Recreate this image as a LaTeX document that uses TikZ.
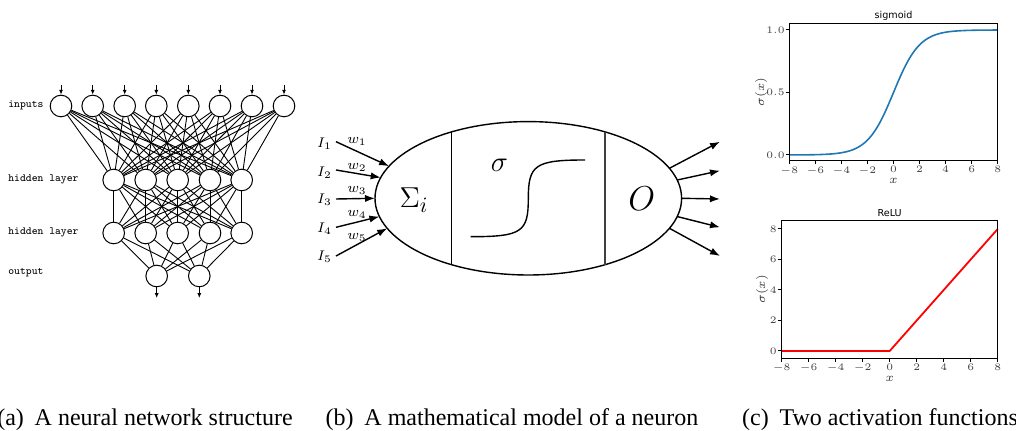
\documentclass[tikz,border=0pt]{standalone}
\usepackage{fontspec}
\newfontfamily\capfont{Liberation Serif}
\newfontfamily\titlefont{DejaVu Sans}
\usetikzlibrary{shapes.geometric,arrows.meta}
\definecolor{mplblue}{HTML}{1F77B4}
\begin{document}
\begin{tikzpicture}[x=0.5pt,y=-0.5pt,
  neuron/.style={circle,draw,line width=0.5pt,minimum size=10.8pt,inner sep=0pt},
  edge/.style={line width=0.45pt},
  smallarrow/.style={line width=0.5pt,-{Latex[length=2.4pt,width=2pt]}},
  lab/.style={font=\fontsize{5.5}{6}\selectfont\ttfamily,anchor=west,inner sep=0pt},
  bigarrow/.style={line width=0.7pt,-{Latex[length=5pt,width=3.6pt]}},
  mlab/.style={font=\fontsize{7.2}{8}\selectfont,inner sep=0pt},
  spine/.style={line width=0.5pt},
  tick/.style={font=\fontsize{4}{5}\selectfont,text=black!75,inner sep=0pt},
  axlab/.style={font=\fontsize{5.6}{6}\selectfont,text=black!80,inner sep=0pt},
  ptitle/.style={font=\fontsize{4.8}{5}\selectfont\titlefont,inner sep=0pt},
  caption/.style={font=\fontsize{12}{14}\selectfont\capfont,anchor=base,inner sep=0pt}]
\useasboundingbox (0,0) rectangle (1016,431);

% ---------------- (a) network ----------------
\foreach \x [count=\i] in {61,92.7,124.7,156.3,188.3,220,252,284} {
  \node[neuron] (in\i) at (\x,106) {};
  \coordinate (ia\i) at (\x,85);
  \draw[smallarrow] (ia\i) -- (in\i);
}
\foreach \x [count=\i] in {113.7,145.7,177.7,210,241.7} {
  \node[neuron] (ha\i) at (\x,180) {};
  \node[neuron] (hb\i) at (\x,233) {};
}
\foreach \x [count=\i] in {156.7,199.3} {
  \node[neuron] (out\i) at (\x,276) {};
  \coordinate (oa\i) at (\x,298);
  \draw[smallarrow] (out\i) -- (oa\i);
}
\foreach \i in {1,...,8} \foreach \j in {1,...,5} \draw[edge] (in\i) -- (ha\j);
\foreach \i in {1,...,5} \foreach \j in {1,...,5} \draw[edge] (ha\i) -- (hb\j);
\foreach \i in {1,...,5} \foreach \j in {1,2} \draw[edge] (hb\i) -- (out\j);
\node[lab] (linp) at (8,105) {inputs};
\node[lab] (lh1) at (8,179) {hidden layer};
\node[lab] (lh2) at (8,232) {hidden layer};
\node[lab] (lout) at (8,273) {output};

% ---------------- (b) neuron ----------------
\node[ellipse,draw,line width=0.7pt,minimum width=153.3pt,minimum height=76.7pt,inner sep=0pt,outer sep=0pt] (cell) at (528.3,198.3) {};
\coordinate (v1t) at (451.7,131.9);
\coordinate (v1b) at (451.7,264.7);
\coordinate (v2t) at (605,131.9);
\coordinate (v2b) at (605,264.7);
\draw[line width=0.6pt] (v1t) -- (v1b);
\draw[line width=0.6pt,black!75] (v2t) -- (v2b);
\node[font=\fontsize{15}{16}\selectfont,inner sep=0pt] (sum) at (414,200) {$\Sigma_i$};
\node[font=\fontsize{15}{16}\selectfont,inner sep=0pt] (sig) at (499.3,165) {$\sigma$};
\node[font=\fontsize{17}{18}\selectfont,inner sep=0pt] (outO) at (641.7,199) {$O$};
\coordinate (c0) at (470.7,236.7);
\coordinate (cm) at (528.3,198.5);
\coordinate (c1) at (585,160);
\draw[line width=0.7pt] (c0) .. controls (522,236.7) and (528.3,232) .. (cm)
  .. controls (528.3,165) and (535,160) .. (c1);
\foreach \y/\a [count=\i] in {141.7/167.3,170/172.7,199/180,227.3/187.3,256/192.7} {
  \coordinate (is\i) at (336,\y);
  \draw[bigarrow] (is\i) -- (cell.\a);
}
\foreach \y [count=\i] in {143.3,172.5,200,228.3,256.7} \node[mlab] (I\i) at (324.5,\y) {$I_{\i}$};
\foreach \y [count=\i] in {141.7,167.5,190.7,214.5,237.3} \node[mlab] (w\i) at (357,\y) {$w_{\i}$};
\foreach \y/\a [count=\i] in {141.7/12.7,170.7/7,199/0,227.3/-7,256/-12.7} {
  \coordinate (oe\i) at (720,\y);
  \draw[bigarrow] (cell.\a) -- (oe\i);
}

% ---------------- (c) sigmoid ----------------
\node[ptitle] (t1) at (893.5,16) {sigmoid};
\draw[mplblue,line width=0.8pt] plot[domain=-8:8,samples=120] ({893.5+13.025*\x},{155-125/(1+exp(-\x))});
\draw[spine] (789.3,23.3) rectangle (997.7,161);
\foreach \v in {-8,-6,...,8} {
  \draw[spine] ({893.5+13.025*\v},161) -- ++(0,3.5);
  \node[tick,anchor=north] at ({893.5+13.025*\v},166) {$\v$};
}
\foreach \v/\l in {0/0.0,0.5/0.5,1/1.0} {
  \draw[spine] (789.3,{155-125*\v}) -- ++(-3.5,0);
  \node[tick,anchor=east] at (785,{155-125*\v}) {$\l$};
}
\node[axlab] (xl1) at (893.5,181) {$x$};
\node[axlab,rotate=90] (yl1) at (761,92.2) {$\sigma(x)$};

% ---------------- (c) ReLU ----------------
\node[ptitle] (t2) at (889.7,212.7) {ReLU};
\draw[red,line width=0.9pt] (781.7,351) -- (889.7,351) -- (997.7,229);
\draw[spine] (781.7,220.7) rectangle (997.7,358.3);
\foreach \v in {-8,-6,...,8} {
  \draw[spine] ({889.7+13.5*\v},358.3) -- ++(0,3.5);
  \node[tick,anchor=north] at ({889.7+13.5*\v},363.3) {$\v$};
}
\foreach \v in {0,2,...,8} {
  \draw[spine] (781.7,{351-15.25*\v}) -- ++(-3.5,0);
  \node[tick,anchor=east] at (777,{351-15.25*\v}) {$\v$};
}
\node[axlab] (xl2) at (889.7,379) {$x$};
\node[axlab,rotate=90] (yl2) at (762,289.5) {$\sigma(x)$};

% ---------------- captions ----------------
\node[caption] (capa) at (145,426) {(a)\hspace{0.45em}A neural network structure};
\node[caption] (capb) at (512,426) {(b)\hspace{0.45em}A mathematical model of a neuron};
\node[caption] (capc) at (880,426) {(c)\hspace{0.45em}Two activation functions};
\end{tikzpicture}
\end{document}
